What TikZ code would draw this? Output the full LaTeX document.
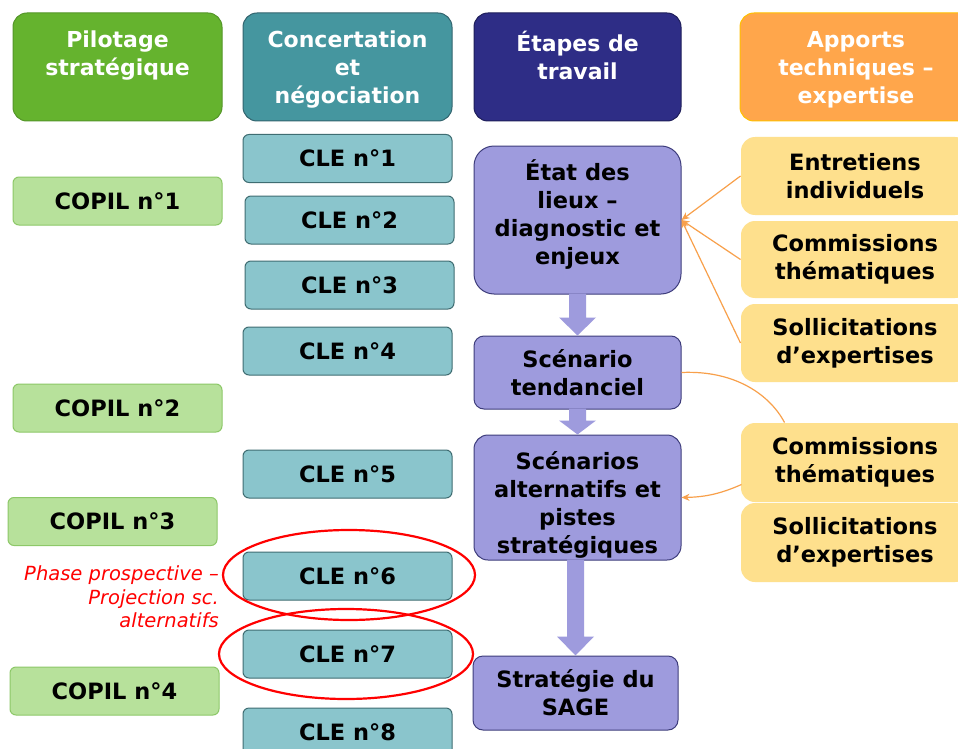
\documentclass[tikz,border=0pt]{standalone}
\usepackage{fontspec}
\setmainfont{DejaVu Sans}[BoldFont={DejaVu Sans Bold},ItalicFont={DejaVu Sans Oblique},BoldItalicFont={DejaVu Sans Bold Oblique}]
\usetikzlibrary{calc,arrows.meta,shapes.geometric}
\definecolor{hgreen}{RGB}{101,179,46}
\definecolor{hgreend}{RGB}{84,150,40}
\definecolor{hteal}{RGB}{69,150,159}
\definecolor{htead}{RGB}{50,100,110}
\definecolor{hnavy}{RGB}{46,45,134}
\definecolor{hnavyd}{RGB}{30,30,90}
\definecolor{horange}{RGB}{255,166,75}
\definecolor{horanged}{RGB}{255,192,0}
\definecolor{copilfill}{RGB}{183,225,155}
\definecolor{copildraw}{RGB}{141,200,104}
\definecolor{clefill}{RGB}{138,197,204}
\definecolor{cledraw}{RGB}{63,109,114}
\definecolor{etfill}{RGB}{158,155,221}
\definecolor{etdraw}{RGB}{62,61,124}
\definecolor{exfill}{RGB}{254,224,141}
\definecolor{oline}{RGB}{248,160,75}
\newcommand{\blkarr}[3]{%
  \fill[etfill] let \p1=(#1.south), \p2=(#2.north) in
   (\x2-8.5pt,\y1+1pt) -- (\x2-8.5pt,\y2+#3) -- (\x2-18.5pt,\y2+#3) -- (\x2,\y2)
   -- (\x2+18.5pt,\y2+#3) -- (\x2+8.5pt,\y2+#3) -- (\x2+8.5pt,\y1+1pt) -- cycle;}
\begin{document}
\begin{tikzpicture}[x=1pt,y=-1pt,
  box/.style={rectangle, draw, line width=1pt, inner sep=0pt, align=center,
    font=\fontsize{22.5}{28}\selectfont\bfseries},
  hdr/.style={box, rounded corners=14pt, minimum height=108pt},
  hdrtxt/.style={inner sep=0pt, align=center, text=white,
    font=\fontsize{22}{28}\selectfont\bfseries},
  copil/.style={box, fill=copilfill, draw=copildraw, rounded corners=6pt,
    minimum width=209pt, minimum height=48pt},
  cle/.style={box, fill=clefill, draw=cledraw, rounded corners=6pt,
    minimum width=209pt, minimum height=48pt},
  etape/.style={box, fill=etfill, draw=etdraw, minimum width=207pt},
  expert/.style={box, fill=exfill, draw=none, rounded corners=14pt,
    minimum width=228pt},
  oval/.style={ellipse, draw=red, line width=2.2pt, inner sep=0pt},
  note/.style={inner sep=0pt, align=right, text=red,
    font=\fontsize{19.5}{23.5}\selectfont\itshape},
  oarr/.style={draw=oline, line width=1.2pt, -{Stealth[length=8pt,width=7pt]}},
  oconn/.style={draw=oline, line width=1.2pt}
]
\clip (0,0) rectangle (958,749);
\fill[white] (0,0) rectangle (958,749);

% headers
\node[hdr, fill=hgreen, draw=hgreend, minimum width=209pt] (h1) at (117.5,67) {};
\node[hdr, fill=hteal, draw=htead, minimum width=209pt] (h2) at (347.5,67) {};
\node[hdr, fill=hnavy, draw=hnavyd, minimum width=207pt] (h3) at (577.5,67) {};
\node[hdr, fill=horange, draw=horanged, minimum width=232pt] (h4) at (856,67) {};
\node[hdrtxt] (h1t) at (117.5,56) {Pilotage\\stratégique};
\node[hdrtxt] (h2t) at (347.5,70) {Concertation\\et\\négociation};
\node[hdrtxt] (h3t) at (577.5,55) {Étapes de\\travail};
\node[hdrtxt] (h4t) at (856,70) {Apports\\techniques –\\expertise};

% COPIL
\node[copil] (c1) at (117.5,201) {COPIL n°1};
\node[copil] (c2) at (117.5,408) {COPIL n°2};
\node[copil] (c3) at (112.5,521.5) {COPIL n°3};
\node[copil] (c4) at (114.5,691) {COPIL n°4};

% CLE
\node[cle] (l1) at (347.5,158.5) {CLE n°1};
\node[cle] (l2) at (349.5,220) {CLE n°2};
\node[cle] (l3) at (349.5,285) {CLE n°3};
\node[cle] (l4) at (347.5,351) {CLE n°4};
\node[cle] (l5) at (347.5,474) {CLE n°5};
\node[cle] (l6) at (347.5,576) {CLE n°6};
\node[cle] (l7) at (347.5,654) {CLE n°7};
\node[cle] (l8) at (347.5,732) {CLE n°8};

% etapes
\node[etape, rounded corners=20pt, minimum height=148pt] (e1) at (577.5,220)
  {État des\\lieux –\\diagnostic et\\enjeux\\[-13pt]\mbox{}};
\node[etape, rounded corners=10pt, minimum height=73pt] (e2) at (577.5,372.5)
  {Scénario\\tendanciel};
\node[etape, rounded corners=14pt, minimum height=125pt] (e3) at (577.5,497.5)
  {\mbox{}\\[5pt]Scénarios\\alternatifs et\\pistes\\stratégiques};
\node[etape, rounded corners=10pt, minimum height=74pt, minimum width=205pt] (e4) at (575.5,693)
  {Stratégie du\\SAGE};

\blkarr{e1}{e2}{18pt}
\blkarr{e2}{e3}{14pt}
\blkarr{e3}{e4}{19pt}

% expertise
\node[expert, minimum height=78pt] (x1) at (855,176) {Entretiens\\individuels};
\node[expert, minimum height=77pt] (x2) at (855,259.5) {Commissions\\thématiques};
\node[expert, minimum height=78pt] (x3) at (855,343) {Sollicitations\\d’expertises};
\node[expert, minimum height=79pt] (x4) at (855,462.5) {Commissions\\thématiques};
\node[expert, minimum height=79pt] (x5) at (855,542.5) {Sollicitations\\d’expertises};

% orange connectors
\draw[oarr] (x1.west) -- (e1.east);
\draw[oarr] (x2.west) -- (e1.east);
\draw[oarr] (x3.west) -- (e1.east);
\coordinate (x4top) at ($(x4.north west)+(44,0)$);
\draw[oconn] (e2.east) .. controls (735,370) and (770,395) .. (x4top);
\coordinate (x4left) at ($(x4.west)+(1,22)$);
\draw[oarr] (x4left) .. controls (720,494) and (705,497) .. (e3.east);

% red ovals and note
\node[oval, minimum width=252pt, minimum height=90pt] (o1) at (349,575) {};
\node[oval, minimum width=254pt, minimum height=90pt] (o2) at (346,654) {};
\node[note, anchor=east] (nt) at (219,597) {Phase prospective –\\Projection sc.\\alternatifs};
\end{tikzpicture}
\end{document}
